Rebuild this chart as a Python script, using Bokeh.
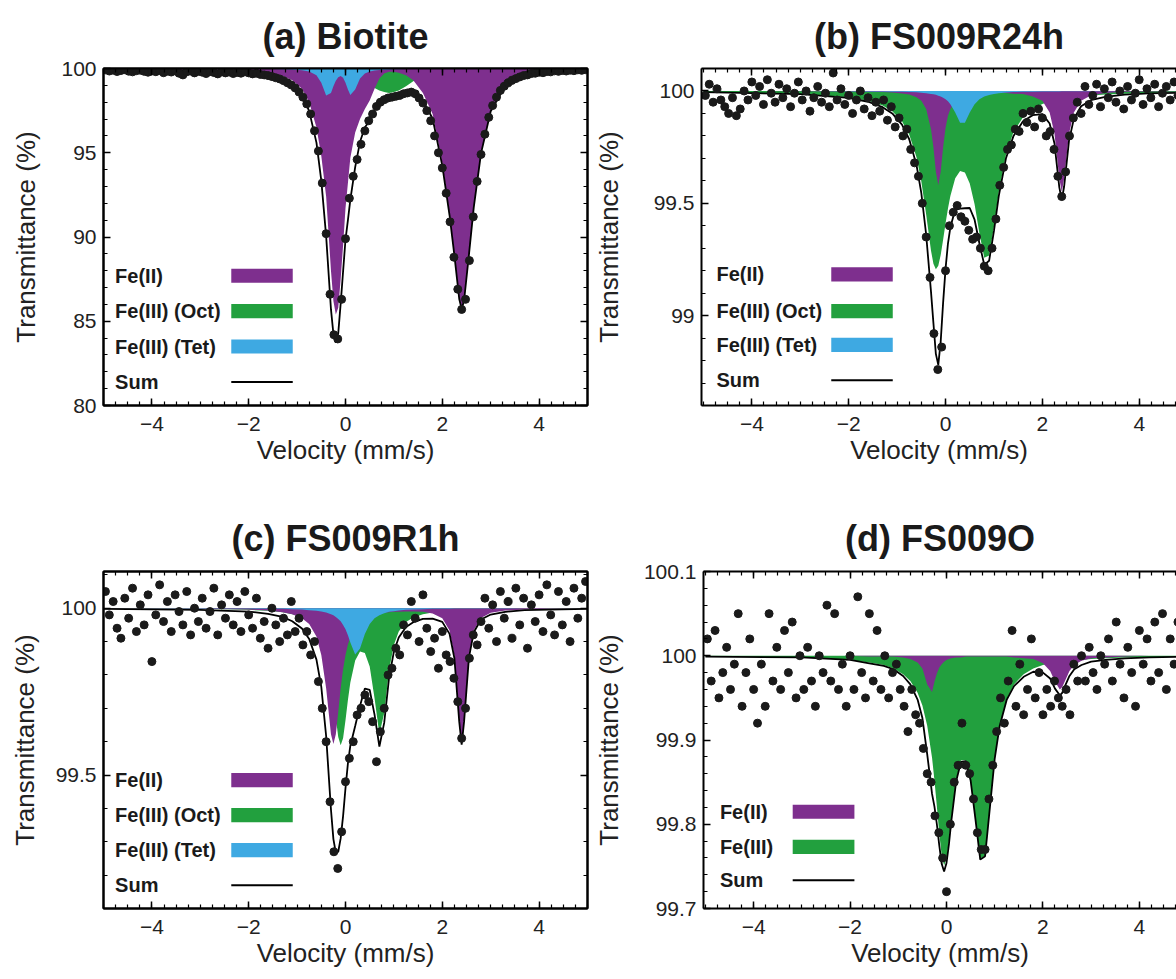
from bokeh.plotting import figure
from bokeh.layouts import column, row
from bokeh.models import (Range1d, FixedTicker, LinearAxis, Label, BoxAnnotation,
                          NumeralTickFormatter)
from bokeh.embed import file_html
from bokeh.resources import INLINE

# ---------------- data ----------------
VELOCITY = [
    -4.96, -4.88, -4.80, -4.72, -4.64, -4.56, -4.48, -4.40, -4.32, -4.24,
    -4.16, -4.08, -4.00, -3.92, -3.84, -3.76, -3.68, -3.60, -3.52, -3.44,
    -3.36, -3.28, -3.20, -3.12, -3.04, -2.96, -2.88, -2.80, -2.72, -2.64,
    -2.56, -2.48, -2.40, -2.32, -2.24, -2.16, -2.08, -2.00, -1.92, -1.84,
    -1.76, -1.68, -1.60, -1.52, -1.44, -1.36, -1.28, -1.20, -1.12, -1.04,
    -0.96, -0.88, -0.80, -0.72, -0.64, -0.56, -0.48, -0.40, -0.32, -0.24,
    -0.16, -0.08, 0.00, 0.08, 0.16, 0.24, 0.32, 0.40, 0.48, 0.56,
    0.64, 0.72, 0.80, 0.88, 0.96, 1.04, 1.12, 1.20, 1.28, 1.36,
    1.44, 1.52, 1.60, 1.68, 1.76, 1.84, 1.92, 2.00, 2.08, 2.16,
    2.24, 2.32, 2.40, 2.48, 2.56, 2.64, 2.72, 2.80, 2.88, 2.96,
    3.04, 3.12, 3.20, 3.28, 3.36, 3.44, 3.52, 3.60, 3.68, 3.76,
    3.84, 3.92, 4.00, 4.08, 4.16, 4.24, 4.32, 4.40, 4.48, 4.56,
    4.64, 4.72, 4.80, 4.88, 4.96]

CURVE_VELOCITY = [
    -5.0, -3.0, -2.0, -1.6, -1.3, -1.1, -0.9, -0.75, -0.6, -0.5,
    -0.4, -0.3, -0.25, -0.2, -0.15, -0.1, -0.05, 0.0, 0.05, 0.1,
    0.2, 0.3, 0.4, 0.5, 0.6, 0.7, 0.8, 0.9, 1.0, 1.1,
    1.25, 1.4, 1.6, 1.8, 2.0, 2.15, 2.25, 2.35, 2.4, 2.45,
    2.55, 2.65, 2.8, 3.0, 3.3, 3.7, 4.2, 5.0]

# (a) Biotite
A_DATA = [
    99.92, 99.85, 99.90, 99.82, 99.88, 99.93, 99.84, 99.80, 99.87, 99.90,
    99.83, 99.78, 99.86, 99.81, 99.88, 99.75, 99.84, 99.79, 99.86, 99.72,
    99.62, 99.80, 99.85, 99.74, 99.83, 99.78, 99.70, 99.82, 99.76, 99.68,
    99.80, 99.74, 99.79, 99.70, 99.77, 99.72, 99.80, 99.74, 99.68, 99.72,
    99.65, 99.62, 99.58, 99.52, 99.45, 99.38, 99.28, 99.15, 99.02, 98.85,
    98.60, 98.30, 97.90, 97.30, 96.30, 95.10, 93.20, 90.20, 86.60, 84.20,
    83.95, 86.30, 89.90, 92.30, 93.60, 94.60, 95.50, 96.30, 96.90, 97.30,
    97.75, 98.00, 98.15, 98.25, 98.30, 98.35, 98.40, 98.50, 98.55, 98.60,
    98.50, 98.25, 97.95, 97.50, 96.90, 96.00, 95.00, 94.10, 92.60, 90.90,
    88.80, 86.90, 85.70, 86.30, 88.60, 91.20, 93.30, 94.90, 96.10, 97.10,
    97.80, 98.30, 98.70, 98.95, 99.15, 99.30, 99.40, 99.50, 99.58, 99.62,
    99.70, 99.72, 99.78, 99.75, 99.82, 99.80, 99.86, 99.83, 99.88, 99.85,
    99.90, 99.87, 99.92, 99.89, 99.93]
A_FE2 = [
    99.95, 99.90, 99.82, 99.72, 99.55, 99.30, 98.80, 98.00, 96.50, 94.80,
    92.40, 88.00, 86.20, 85.40, 85.80, 87.50, 89.50, 91.70, 93.20, 94.70,
    96.20, 97.00, 97.60, 98.10, 98.80, 99.40, 99.70, 99.80, 99.80, 99.75,
    99.60, 99.30, 98.55, 97.30, 94.40, 91.40, 89.00, 86.40, 85.80, 86.30,
    89.00, 91.80, 95.00, 97.50, 99.00, 99.60, 99.85, 99.95]
A_FE3_OCT = [
    100.00, 99.98, 99.95, 99.92, 99.88, 99.82, 99.75, 99.65, 99.50, 99.40,
    99.25, 99.15, 99.10, 99.05, 99.00, 99.00, 99.00, 99.00, 99.05, 99.10,
    99.20, 99.25, 99.20, 99.00, 98.85, 98.70, 98.60, 98.55, 98.60, 98.70,
    98.95, 99.25, 99.55, 99.75, 99.85, 99.90, 99.92, 99.93, 99.94, 99.94,
    99.95, 99.96, 99.97, 99.97, 99.98, 99.99, 100.00, 100.00]
A_FE3_TET = [
    100.00, 99.995, 99.985, 99.975, 99.96, 99.94, 99.90, 99.82, 99.60, 99.15,
    98.40, 98.55, 98.95, 99.28, 99.48, 99.55, 99.45, 99.15, 98.75, 98.42,
    98.75, 99.40, 99.70, 99.82, 99.88, 99.91, 99.93, 99.945, 99.955, 99.96,
    99.97, 99.975, 99.98, 99.985, 99.988, 99.99, 99.99, 99.991, 99.991, 99.992,
    99.992, 99.993, 99.994, 99.995, 99.996, 99.997, 99.998, 99.999]

# (b) FS009R24h
B_DATA = [
    99.98, 100.03, 99.95, 100.01, 99.96, 99.93, 99.90, 99.97, 99.89, 99.92,
    100.00, 99.96, 100.04, 99.98, 100.02, 99.94, 100.05, 99.99, 99.95, 100.03,
    99.97, 100.01, 99.93, 99.99, 100.04, 99.96, 100.00, 99.91, 99.97, 100.02,
    99.95, 99.99, 99.93, 100.08, 99.96, 100.01, 99.94, 99.98, 99.90, 99.96,
    100.00, 99.92, 99.97, 99.89, 99.95, 99.91, 99.96, 99.87, 99.93, 99.84,
    99.88, 99.80, 99.83, 99.74, 99.68, 99.62, 99.50, 99.35, 99.17, 98.92,
    98.76, 98.86, 99.20, 99.40, 99.46, 99.49, 99.44, 99.42, 99.38, 99.34,
    99.35, 99.30, 99.22, 99.20, 99.30, 99.43, 99.58, 99.66, 99.74, 99.76,
    99.83, 99.82, 99.90, 99.86, 99.91, 99.84, 99.92, 99.88, 99.80, 99.82,
    99.74, 99.62, 99.53, 99.64, 99.80, 99.88, 99.95, 99.90, 100.02, 99.94,
    99.98, 100.03, 99.93, 100.01, 99.97, 100.04, 99.95, 100.00, 99.92, 100.02,
    99.96, 99.99, 100.05, 99.94, 100.01, 99.97, 100.03, 99.93, 99.99, 100.02,
    99.96, 100.04, 99.98, 100.00, 99.95]
B_FE2 = [
    100.000, 99.999, 99.998, 99.997, 99.995, 99.993, 99.989, 99.984, 99.972, 99.956,
    99.920, 99.830, 99.750, 99.640, 99.580, 99.640, 99.750, 99.835, 99.890, 99.920,
    99.956, 99.973, 99.982, 99.987, 99.990, 99.992, 99.993, 99.994, 99.994, 99.993,
    99.991, 99.988, 99.986, 99.975, 99.957, 99.904, 99.810, 99.610, 99.550, 99.610,
    99.810, 99.904, 99.957, 99.980, 99.991, 99.996, 99.998, 99.999]
B_FE3_OCT = [
    99.995, 99.987, 99.972, 99.957, 99.935, 99.910, 99.865, 99.806, 99.705, 99.597,
    99.450, 99.289, 99.231, 99.207, 99.222, 99.270, 99.338, 99.410, 99.477, 99.533,
    99.611, 99.644, 99.637, 99.588, 99.496, 99.366, 99.258, 99.268, 99.396, 99.550,
    99.718, 99.815, 99.883, 99.920, 99.942, 99.953, 99.958, 99.963, 99.965, 99.967,
    99.970, 99.973, 99.976, 99.980, 99.984, 99.988, 99.991, 99.994]
B_FE3_TET = [
    100.000, 100.000, 99.999, 99.998, 99.998, 99.997, 99.996, 99.995, 99.994, 99.992,
    99.990, 99.987, 99.985, 99.983, 99.979, 99.975, 99.970, 99.963, 99.954, 99.941,
    99.904, 99.859, 99.859, 99.904, 99.941, 99.963, 99.975, 99.982, 99.987, 99.990,
    99.993, 99.995, 99.996, 99.997, 99.998, 99.998, 99.998, 99.998, 99.999, 99.999,
    99.999, 99.999, 99.999, 99.999, 99.999, 100.000, 100.000, 100.000]

# (c) FS009R1h
C_DATA = [
    100.05, 99.98, 100.02, 99.94, 99.91, 100.03, 99.97, 100.06, 99.93, 100.01,
    99.95, 100.04, 99.84, 99.98, 100.07, 99.96, 100.02, 99.93, 100.04, 99.99,
    99.95, 100.05, 99.92, 100.00, 99.96, 100.03, 99.94, 99.99, 100.06, 99.92,
    100.01, 99.97, 100.04, 99.95, 100.02, 99.93, 100.05, 99.98, 99.94, 100.03,
    99.91, 99.96, 99.88, 100.00, 99.95, 99.90, 99.97, 99.92, 100.02, 99.93,
    99.97, 99.89, 99.93, 99.86, 99.90, 99.78, 99.70, 99.60, 99.42, 99.27,
    99.22, 99.33, 99.48, 99.55, 99.60, 99.68, 99.70, 99.74, 99.72, 99.66,
    99.54, 99.63, 99.70, 99.80, 99.82, 99.88, 99.86, 99.95, 99.92, 100.02,
    99.97, 99.90, 100.04, 99.94, 99.87, 99.91, 99.82, 99.93, 99.86, 99.84,
    99.79, 99.72, 99.61, 99.70, 99.85, 99.92, 99.89, 99.96, 100.03, 99.94,
    100.01, 99.90, 100.05, 99.97, 100.02, 99.91, 100.06, 99.95, 100.03, 99.88,
    100.01, 99.96, 100.04, 99.93, 100.07, 99.98, 99.92, 100.05, 99.95, 100.02,
    99.90, 100.06, 99.97, 100.03, 100.08]
C_FE2 = [
    99.999, 99.998, 99.996, 99.993, 99.988, 99.982, 99.970, 99.953, 99.915, 99.860,
    99.760, 99.622, 99.593, 99.622, 99.688, 99.760, 99.817, 99.860, 99.891, 99.914,
    99.943, 99.959, 99.970, 99.977, 99.981, 99.984, 99.986, 99.988, 99.989, 99.989,
    99.990, 99.990, 99.989, 99.984, 99.970, 99.933, 99.858, 99.667, 99.598, 99.667,
    99.858, 99.934, 99.971, 99.986, 99.993, 99.996, 99.998, 99.999]
C_FE3_OCT = [
    99.999, 99.998, 99.995, 99.992, 99.988, 99.982, 99.973, 99.961, 99.939, 99.914,
    99.870, 99.792, 99.736, 99.671, 99.614, 99.589, 99.610, 99.664, 99.725, 99.777,
    99.843, 99.870, 99.866, 99.825, 99.730, 99.622, 99.686, 99.815, 99.890, 99.930,
    99.959, 99.972, 99.982, 99.987, 99.991, 99.992, 99.993, 99.994, 99.994, 99.994,
    99.995, 99.995, 99.996, 99.996, 99.997, 99.998, 99.998, 99.999]
C_FE3_TET = [
    100.000, 99.999, 99.999, 99.998, 99.998, 99.997, 99.996, 99.994, 99.992, 99.990,
    99.987, 99.982, 99.979, 99.974, 99.968, 99.961, 99.950, 99.937, 99.919, 99.897,
    99.861, 99.879, 99.923, 99.953, 99.970, 99.979, 99.985, 99.989, 99.991, 99.993,
    99.995, 99.996, 99.997, 99.998, 99.998, 99.998, 99.999, 99.999, 99.999, 99.999,
    99.999, 99.999, 99.999, 99.999, 99.999, 100.000, 100.000, 100.000]

# (d) FS009O
D_DATA = [
    100.02, 99.97, 100.03, 99.95, 99.98, 100.01, 99.96, 99.99, 100.05, 99.94,
    99.98, 100.02, 99.96, 99.92, 99.99, 99.94, 100.05, 99.97, 100.01, 99.96,
    100.03, 99.98, 100.04, 99.95, 100.00, 99.96, 100.01, 99.97, 99.94, 100.00,
    99.98, 100.06, 99.97, 100.05, 99.96, 99.99, 99.94, 100.00, 99.96, 100.07,
    99.98, 99.95, 100.05, 99.97, 100.03, 99.96, 100.00, 99.95, 99.98, 99.99,
    99.96, 99.94, 99.91, 99.96, 99.93, 99.92, 99.89, 99.86, 99.85, 99.81,
    99.79, 99.76, 99.72, 99.80, 99.85, 99.87, 99.92, 99.87, 99.86, 99.83,
    99.79, 99.77, 99.77, 99.83, 99.87, 99.91, 99.95, 99.92, 99.97, 100.03,
    99.94, 99.99, 99.93, 99.96, 100.02, 99.95, 99.98, 99.93, 99.96, 99.94,
    99.97, 99.95, 99.94, 99.96, 99.93, 99.99, 99.97, 100.00, 99.97, 100.01,
    99.98, 99.96, 100.00, 99.99, 100.02, 99.97, 100.04, 99.99, 99.95, 100.01,
    99.98, 99.94, 100.03, 99.99, 100.02, 99.97, 100.04, 99.98, 100.05, 99.96,
    100.02, 99.99, 100.04, 99.97, 100.01]
D_FE2 = [
    100.000, 100.000, 100.000, 99.999, 99.999, 99.999, 99.998, 99.996, 99.992, 99.985,
    99.966, 99.957, 99.969, 99.979, 99.986, 99.990, 99.993, 99.995, 99.996, 99.997,
    99.998, 99.998, 99.999, 99.999, 99.999, 99.999, 99.999, 99.999, 99.999, 99.999,
    99.999, 99.998, 99.997, 99.996, 99.991, 99.982, 99.969, 99.960, 99.963, 99.969,
    99.982, 99.989, 99.994, 99.997, 99.998, 99.999, 100.000, 100.000]
D_FE3 = [
    99.999, 99.998, 99.995, 99.992, 99.989, 99.985, 99.978, 99.970, 99.956, 99.941,
    99.917, 99.879, 99.852, 99.821, 99.789, 99.763, 99.751, 99.759, 99.780, 99.807,
    99.853, 99.876, 99.876, 99.853, 99.807, 99.759, 99.763, 99.821, 99.879, 99.917,
    99.949, 99.966, 99.978, 99.985, 99.989, 99.991, 99.992, 99.993, 99.993, 99.994,
    99.994, 99.995, 99.995, 99.996, 99.997, 99.998, 99.998, 99.999]

TITLES = ["(a) Biotite", "(b) FS009R24h", "(c) FS009R1h", "(d) FS009O"]
X_TICKS = [-4, -2, 0, 2, 4]
X_LABELS = {-4: "\u22124", -2: "\u22122", 0: "0", 2: "2", 4: "4"}

# ---------------- style ----------------
FONT = "Liberation Sans"
PURPLE = "#7E2F8E"
GREEN = "#22A03E"
BLUE = "#3EA9E2"
INK = "#1a1a1a"
X_MINOR = [round(-5 + 0.25 * i, 2) for i in range(41)]


def style_axis(ax, show=True):
    ax.axis_line_width = 2
    ax.axis_line_color = "black"
    ax.major_tick_in = 7
    ax.major_tick_out = 0
    ax.minor_tick_in = 4
    ax.minor_tick_out = 0
    ax.major_tick_line_width = 1.5
    ax.minor_tick_line_width = 1.2
    ax.major_tick_line_color = "black"
    ax.minor_tick_line_color = "black"
    if show:
        ax.major_label_text_font = FONT
        ax.major_label_text_font_size = "21px"
        ax.major_label_text_color = "#222222"
        ax.axis_label_text_font = FONT
        ax.axis_label_text_font_size = "26px"
        ax.axis_label_text_font_style = "normal"
        ax.axis_label_text_color = "#222222"
    else:
        ax.major_label_text_color = None
        ax.major_label_text_font_size = "1px"
        ax.major_label_standoff = 0
        ax.axis_label = None


def make_panel(title, x_range, y_range, y_ticks, y_minor, size, borders, title_standoff,
               ylabel_standoff, cut_right, fills, data, legend_rows, text_x, swatch_x):
    w, h = size
    ml, mr, mt, mb = borders
    p = figure(width=w, height=h, x_range=Range1d(*x_range), y_range=Range1d(*y_range),
               output_backend="svg", toolbar_location=None,
               min_border_left=ml, min_border_right=mr, min_border_top=mt, min_border_bottom=mb,
               x_axis_label="Velocity (mm/s)", y_axis_label="Transmittance (%)", title=title)
    p.xgrid.visible = False
    p.ygrid.visible = False
    p.background_fill_color = "white"
    p.border_fill_color = "white"
    p.outline_line_color = None if cut_right else "black"
    p.outline_line_width = 2

    p.title.align = "center"
    p.title.text_font = FONT
    p.title.text_font_size = "36px"
    p.title.text_font_style = "bold"
    p.title.text_color = "#1a1a1a"
    p.title.standoff = title_standoff

    xt = FixedTicker(ticks=X_TICKS, minor_ticks=X_MINOR)
    yt = FixedTicker(ticks=y_ticks, minor_ticks=y_minor)
    p.xaxis.ticker = xt
    p.yaxis.ticker = yt
    p.xaxis.major_label_overrides = X_LABELS
    p.yaxis.formatter = NumeralTickFormatter(format="0.[0]")
    style_axis(p.xaxis[0])
    style_axis(p.yaxis[0])
    p.xaxis.major_label_standoff = 11
    p.xaxis.axis_label_standoff = 1
    p.yaxis.major_label_standoff = 7
    p.yaxis.axis_label_standoff = ylabel_standoff

    top = LinearAxis(ticker=xt)
    style_axis(top, show=False)
    p.add_layout(top, "above")
    if not cut_right:
        right = LinearAxis(ticker=yt)
        style_axis(right, show=False)
        p.add_layout(right, "right")

    # component areas, sum curve and data
    depth = [0.0] * len(CURVE_VELOCITY)
    for comp, color in fills:
        p.varea(x=CURVE_VELOCITY, y1=100, y2=comp, fill_color=color, fill_alpha=1.0)
        depth = [d + (100 - c) for d, c in zip(depth, comp)]
    total = [100 - d for d in depth]
    p.line(CURVE_VELOCITY, total, line_color="black", line_width=1.8)
    p.scatter(VELOCITY, data, size=8, fill_color=INK, line_color=INK)

    # legend (label left, swatch right)
    y0, y1 = y_range
    span = y1 - y0
    sx0, sx1 = swatch_x
    for (label, color, frac) in legend_rows:
        yc = y0 + frac * span
        p.add_layout(Label(x=text_x, y=yc, text=label, text_font=FONT, text_font_style="bold",
                           text_font_size="20px", text_baseline="middle", text_color="#1a1a1a"))
        if color is None:
            hh = 0.003 * span
            p.add_layout(BoxAnnotation(left=sx0, right=sx1, bottom=yc - hh, top=yc + hh,
                                       fill_color="black", fill_alpha=1, line_color=None))
        else:
            hh = 0.021 * span
            p.add_layout(BoxAnnotation(left=sx0, right=sx1, bottom=yc - hh, top=yc + hh,
                                       fill_color=color, fill_alpha=1, line_color=None))
    return p


pa = make_panel(TITLES[0], (-5.0, 5.0), (80, 100), [80, 85, 90, 95, 100],
                [v for v in range(81, 100) if v % 5], (590, 490), (103, 3, 68, 85), 24, 17, False,
                [(A_FE3_OCT, GREEN), (A_FE2, PURPLE), (A_FE3_TET, BLUE)], A_DATA,
                [("Fe(II)", PURPLE, 0.385), ("Fe(III) (Oct)", GREEN, 0.28),
                 ("Fe(III) (Tet)", BLUE, 0.175), ("Sum", None, 0.07)], -4.76, (-2.36, -1.09))

pb = make_panel(TITLES[1], (-5.04, 4.77), (98.6, 100.1), [99, 99.5, 100],
                [round(98.6 + 0.1 * i, 1) for i in range(16)], (586, 490), (111, 0, 68, 85), 24, 27, True,
                [(B_FE3_OCT, GREEN), (B_FE2, PURPLE), (B_FE3_TET, BLUE)], B_DATA,
                [("Fe(II)", PURPLE, 0.389), ("Fe(III) (Oct)", GREEN, 0.28),
                 ("Fe(III) (Tet)", BLUE, 0.18), ("Sum", None, 0.075)], -4.73, (-2.36, -1.09))

pc = make_panel(TITLES[2], (-5.0, 5.0), (99.1, 100.11), [99.5, 100],
                [round(99.1 + 0.1 * i, 1) for i in range(11)], (590, 489), (103, 3, 81, 71), 26, 13, False,
                [(C_FE3_OCT, GREEN), (C_FE2, PURPLE), (C_FE3_TET, BLUE)], C_DATA,
                [("Fe(II)", PURPLE, 0.381), ("Fe(III) (Oct)", GREEN, 0.277),
                 ("Fe(III) (Tet)", BLUE, 0.173), ("Sum", None, 0.069)], -4.76, (-2.36, -1.09))

pd = make_panel(TITLES[3], (-5.04, 4.77), (99.7, 100.1), [99.7, 99.8, 99.9, 100, 100.1],
                [round(99.7 + 0.02 * i, 2) for i in range(21)], (586, 489), (111, 0, 81, 71), 26, 17, True,
                [(D_FE3, GREEN), (D_FE2, PURPLE)], D_DATA,
                [("Fe(II)", PURPLE, 0.287), ("Fe(III)", GREEN, 0.183), ("Sum", None, 0.084)],
                -4.70, (-3.19, -1.91))

layout = column(row(pa, pb), row(pc, pd))

html = file_html(layout, INLINE, title="Mossbauer spectra")
html = html.replace("<head>", "<head><style>body{margin:0;padding:0;}</style>", 1)
open("out.html", "w").write(html)
